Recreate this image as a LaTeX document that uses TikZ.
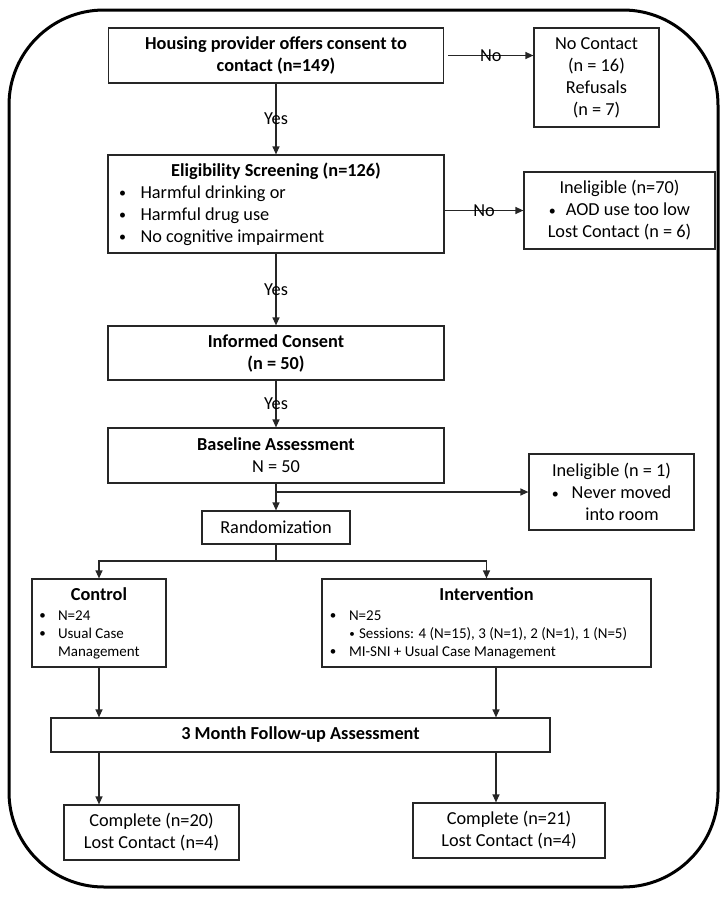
\documentclass[tikz,border=0pt]{standalone}
\usepackage{fontspec}
\setmainfont{Carlito}
\usetikzlibrary{arrows.meta}
% bullet: #1 = offset of bullet centre, #2 = offset of text, #3 = bullet size
\newcommand\mybul[3]{\hspace*{#1pt}\makebox[0pt]{\raisebox{0.5pt}{\fontsize{#3}{0}\selectfont•}}\hspace*{\dimexpr #2pt-#1pt\relax}}
\newcommand\smbul[1]{\raisebox{0.5pt}{\fontsize{#1}{0}\selectfont•}}
\tikzset{
  box/.style={draw=black!85, line width=1.2pt, inner sep=0pt, align=center},
  tx/.style={font=\fontsize{18.3}{22}\selectfont},
  tb/.style={font=\fontsize{18.3}{22}\selectfont\bfseries},
  ts/.style={font=\fontsize{15}{18}\selectfont},
  arr/.style={draw=black!85, line width=1.2pt, -{Triangle[length=8pt,width=7pt]}},
  lbl/.style={font=\fontsize{18.3}{22}\selectfont, inner sep=0pt}
}
\begin{document}
\begin{tikzpicture}[x=1pt,y=-1pt]
\useasboundingbox (0,0) rectangle (727,898);
\draw[line width=3pt, rounded corners=95pt] (9,10) rectangle (718,887);

\node[box, tb, minimum width=335, minimum height=55] (consent) at (276,55.5)
  {Housing provider offers consent to\\contact (n=149)};
\node[box, tx, minimum width=125, minimum height=99] (nocontact) at (596.5,77.5)
  {No Contact\\(n = 16)\\Refusals\\(n = 7)};

\node[box, tx, minimum width=336, minimum height=98, text width=336pt, align=flush left] (elig) at (276,204)
  {\makebox[336pt][c]{\bfseries Eligibility Screening (n=126)}\\
   \mybul{14.5}{32.5}{14}Harmful drinking or\\
   \mybul{14.5}{32.5}{14}Harmful drug use\\
   \mybul{14.5}{32.5}{14}No cognitive impairment};
\node[box, tx, minimum width=191, minimum height=77] (inel70) at (619.5,210.5)
  {Ineligible (n=70)\\\smbul{14}\hspace{10pt}AOD use too low\\Lost Contact (n = 6)};

\node[box, tb, minimum width=336, minimum height=54] (informed) at (276,353)
  {Informed Consent\\(n = 50)};
\node[box, tx, minimum width=336, minimum height=55] (base) at (276,455.5)
  {\textbf{Baseline Assessment}\\N = 50};
\node[box, tx, minimum width=165, minimum height=76] (inel1) at (611.5,492)
  {Ineligible (n = 1)\\\smbul{14}\hspace{13pt}Never moved\\\hspace*{21pt}into room};

\node[box, tx, minimum width=148, minimum height=33] (rand) at (276,527.5) {Randomization};

\node[box, ts, minimum width=134, minimum height=88, text width=134pt, align=flush left] (ctrl) at (99,623)
  {\makebox[134pt][c]{\fontsize{18.3}{22}\selectfont\bfseries Control}\\[2pt]
   \mybul{10.5}{26}{13}N=24\\
   \mybul{10.5}{26}{13}Usual Case\\
   \hspace*{26pt}Management};
\node[box, ts, minimum width=329, minimum height=88, text width=329pt, align=flush left] (interv) at (486.5,623)
  {\makebox[329pt][c]{\fontsize{18.3}{22}\selectfont\bfseries Intervention}\\[2pt]
   \mybul{11}{27}{13}N=25\\
   \mybul{30}{37}{11}Sessions: 4 (N=15), 3 (N=1), 2 (N=1), 1 (N=5)\\
   \mybul{11}{27}{13}MI-SNI + Usual Case Management};

\node[box, tb, minimum width=499, minimum height=34] (fu) at (300.5,735) {3 Month Follow-up Assessment};

\node[box, tx, minimum width=175, minimum height=55] (comp1) at (151.5,832.5)
  {Complete (n=20)\\Lost Contact (n=4)};
\node[box, tx, minimum width=192, minimum height=55] (comp2) at (509,830.5)
  {Complete (n=21)\\Lost Contact (n=4)};

% connectors
\draw[arr] ([xshift=4pt]consent.east) -- node[lbl]{No} (consent.east -| nocontact.west);
\draw[arr] (consent.south) -- node[lbl]{Yes} (elig.north);
\draw[arr] (elig.east |- inel70.west) -- node[lbl]{No} (inel70.west);
\draw[arr] (elig.south) -- node[lbl]{Yes} (informed.north);
\draw[arr] (informed.south) -- node[lbl]{Yes} (base.north);
\draw[arr] (base.south) -- (rand.north);
\draw[arr] (base.south |- inel1.west) -- (inel1.west);
\coordinate (split) at (276,561);
\draw[draw=black!85, line width=1.2pt] (rand.south) -- (split);
\draw[arr] (split) -| (ctrl.north);
\draw[arr] (split) -| (interv.north);
\coordinate (ib) at ([xshift=9.5pt]interv.south);
\draw[arr] (ctrl.south) -- (ctrl.south |- fu.north);
\draw[arr] (ib) -- (ib |- fu.north);
\draw[arr] (ctrl.south |- fu.south) -- (ctrl.south |- comp1.north);
\draw[arr] (ib |- fu.south) -- (ib |- comp2.north);
\end{tikzpicture}
\end{document}
